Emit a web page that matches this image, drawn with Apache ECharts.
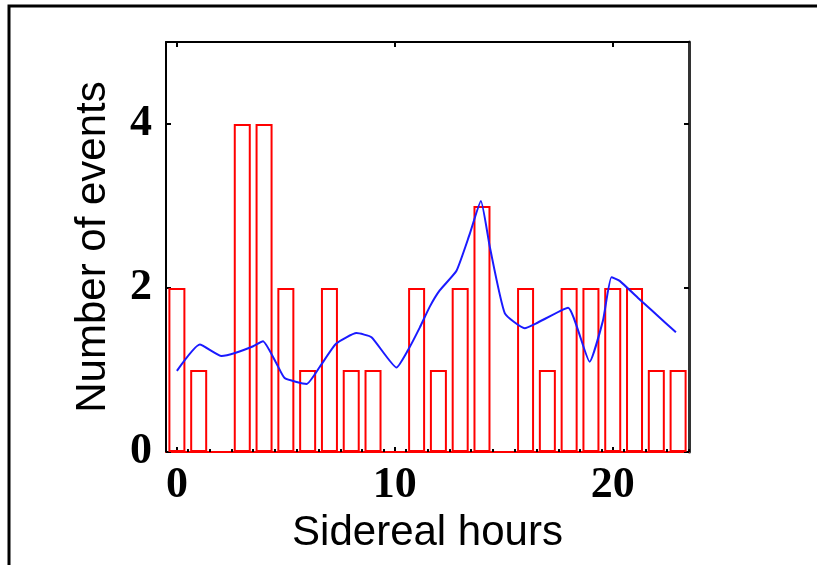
<!DOCTYPE html>
<html>
<head>
<meta charset="utf-8">
<script src="https://cdn.jsdelivr.net/npm/echarts@6/dist/echarts.min.js"></script>
<style>
  html, body { margin: 0; padding: 0; background: #fff; }
  #chart { width: 817px; height: 565px; }
</style>
</head>
<body>
<div id="chart"></div>
<script>
// histogram bins (one per sidereal hour) and counts
var hours = [0, 1, 2, 3, 4, 5, 6, 7, 8, 9, 10, 11, 12, 13, 14, 15, 16, 17, 18, 19, 20, 21, 22, 23];
var counts = [2, 1, 0, 4, 4, 2, 1, 2, 1, 1, 0, 2, 1, 2, 3, 0, 2, 1, 2, 2, 2, 2, 1, 1];

// blue smoothed curve
var curveX = [0, 1.05, 2.05, 2.7, 3.5, 3.95, 4.57, 4.95, 5.95, 6.56, 7.3, 8.24, 8.93, 10.08, 10.6,
  11.15, 11.6, 12.06, 12.83, 13.44, 13.95, 14.36, 15.05, 15.96, 16.5, 17.95, 18.94, 19.55, 19.94,
  20.3, 21.2, 22.4, 22.9];
var curveY = [0.99, 1.31, 1.17, 1.21, 1.29, 1.35, 1.08, 0.9, 0.83, 1.04, 1.32, 1.45, 1.40, 1.03, 1.24,
  1.52, 1.77, 1.97, 2.21, 2.66, 3.06, 2.50, 1.69, 1.51, 1.57, 1.76, 1.10, 1.60, 2.13,
  2.09, 1.87, 1.58, 1.46];

// tick labels
var xTicks = [0, 10, 20];
var yTicks = [0, 2, 4];
var xMinorTicks = [];
for (var i = 0; i <= 24; i++) xMinorTicks.push(i - 0.5);

var chart = echarts.init(document.getElementById('chart'));

var tickFont = {
  color: '#000',
  fontFamily: 'Liberation Serif, Times New Roman, serif',
  fontSize: 44,
  fontWeight: 'bold'
};
var nameFont = {
  color: '#000',
  fontFamily: 'Liberation Sans, Arial, sans-serif',
  fontSize: 42
};

var option = {
  animation: false,
  backgroundColor: '#fff',
  graphic: [{
    type: 'rect',
    shape: {x: 9, y: 6, width: 900, height: 700},
    style: {fill: 'none', stroke: '#000', lineWidth: 3},
    silent: true
  }],
  grid: {left: 166, top: 42, right: 128, bottom: 113},
  xAxis: [{
    type: 'value',
    min: -0.5,
    max: 23.5,
    position: 'bottom',
    name: 'Sidereal hours',
    nameLocation: 'middle',
    nameGap: 56,
    nameTextStyle: nameFont,
    axisLine: {onZero: false, lineStyle: {color: '#ff0000', width: 2}},
    axisTick: {show: true, inside: true, length: 5, customValues: xTicks, lineStyle: {color: '#000', width: 2}},
    axisLabel: Object.assign({margin: 12, customValues: xTicks}, tickFont),
    splitLine: {show: false}
  }, {
    type: 'value',
    min: -0.5,
    max: 23.5,
    position: 'bottom',
    axisLine: {show: false, onZero: false},
    axisTick: {show: true, inside: true, length: 3, customValues: xMinorTicks, lineStyle: {color: '#000', width: 2}},
    axisLabel: {show: false},
    splitLine: {show: false}
  }, {
    type: 'value',
    min: -0.5,
    max: 23.5,
    position: 'top',
    axisLine: {onZero: false, lineStyle: {color: '#000', width: 2}},
    axisTick: {show: true, inside: true, length: 5, customValues: xTicks, lineStyle: {color: '#000', width: 2}},
    axisLabel: {show: false},
    splitLine: {show: false}
  }],
  yAxis: [{
    type: 'value',
    min: 0,
    max: 5,
    position: 'left',
    name: 'Number of events',
    nameLocation: 'middle',
    nameGap: 52,
    nameTextStyle: nameFont,
    axisLine: {show: true, onZero: false, lineStyle: {color: '#000', width: 2}},
    axisTick: {show: true, inside: true, length: 5, customValues: yTicks, lineStyle: {color: '#000', width: 2}},
    axisLabel: Object.assign({margin: 14, customValues: yTicks}, tickFont),
    splitLine: {show: false}
  }, {
    type: 'value',
    min: 0,
    max: 5,
    position: 'right',
    axisLine: {show: true, onZero: false, lineStyle: {color: '#333', width: 3}},
    axisTick: {show: true, inside: true, length: 5, customValues: yTicks, lineStyle: {color: '#000', width: 2}},
    axisLabel: {show: false},
    splitLine: {show: false}
  }],
  series: [{
    type: 'bar',
    xAxisIndex: 0,
    yAxisIndex: 0,
    barWidth: 17,
    data: hours.map(function (h, k) { return [h, counts[k]]; }),
    itemStyle: {color: 'rgba(0,0,0,0)', borderColor: '#ff0000', borderWidth: 2}
  }, {
    type: 'line',
    xAxisIndex: 0,
    yAxisIndex: 0,
    showSymbol: false,
    smooth: 0.15,
    data: curveX.map(function (x, k) { return [x, curveY[k]]; }),
    lineStyle: {color: '#1a1aff', width: 2}
  }]
};
chart.setOption(option);
</script>
</body>
</html>
